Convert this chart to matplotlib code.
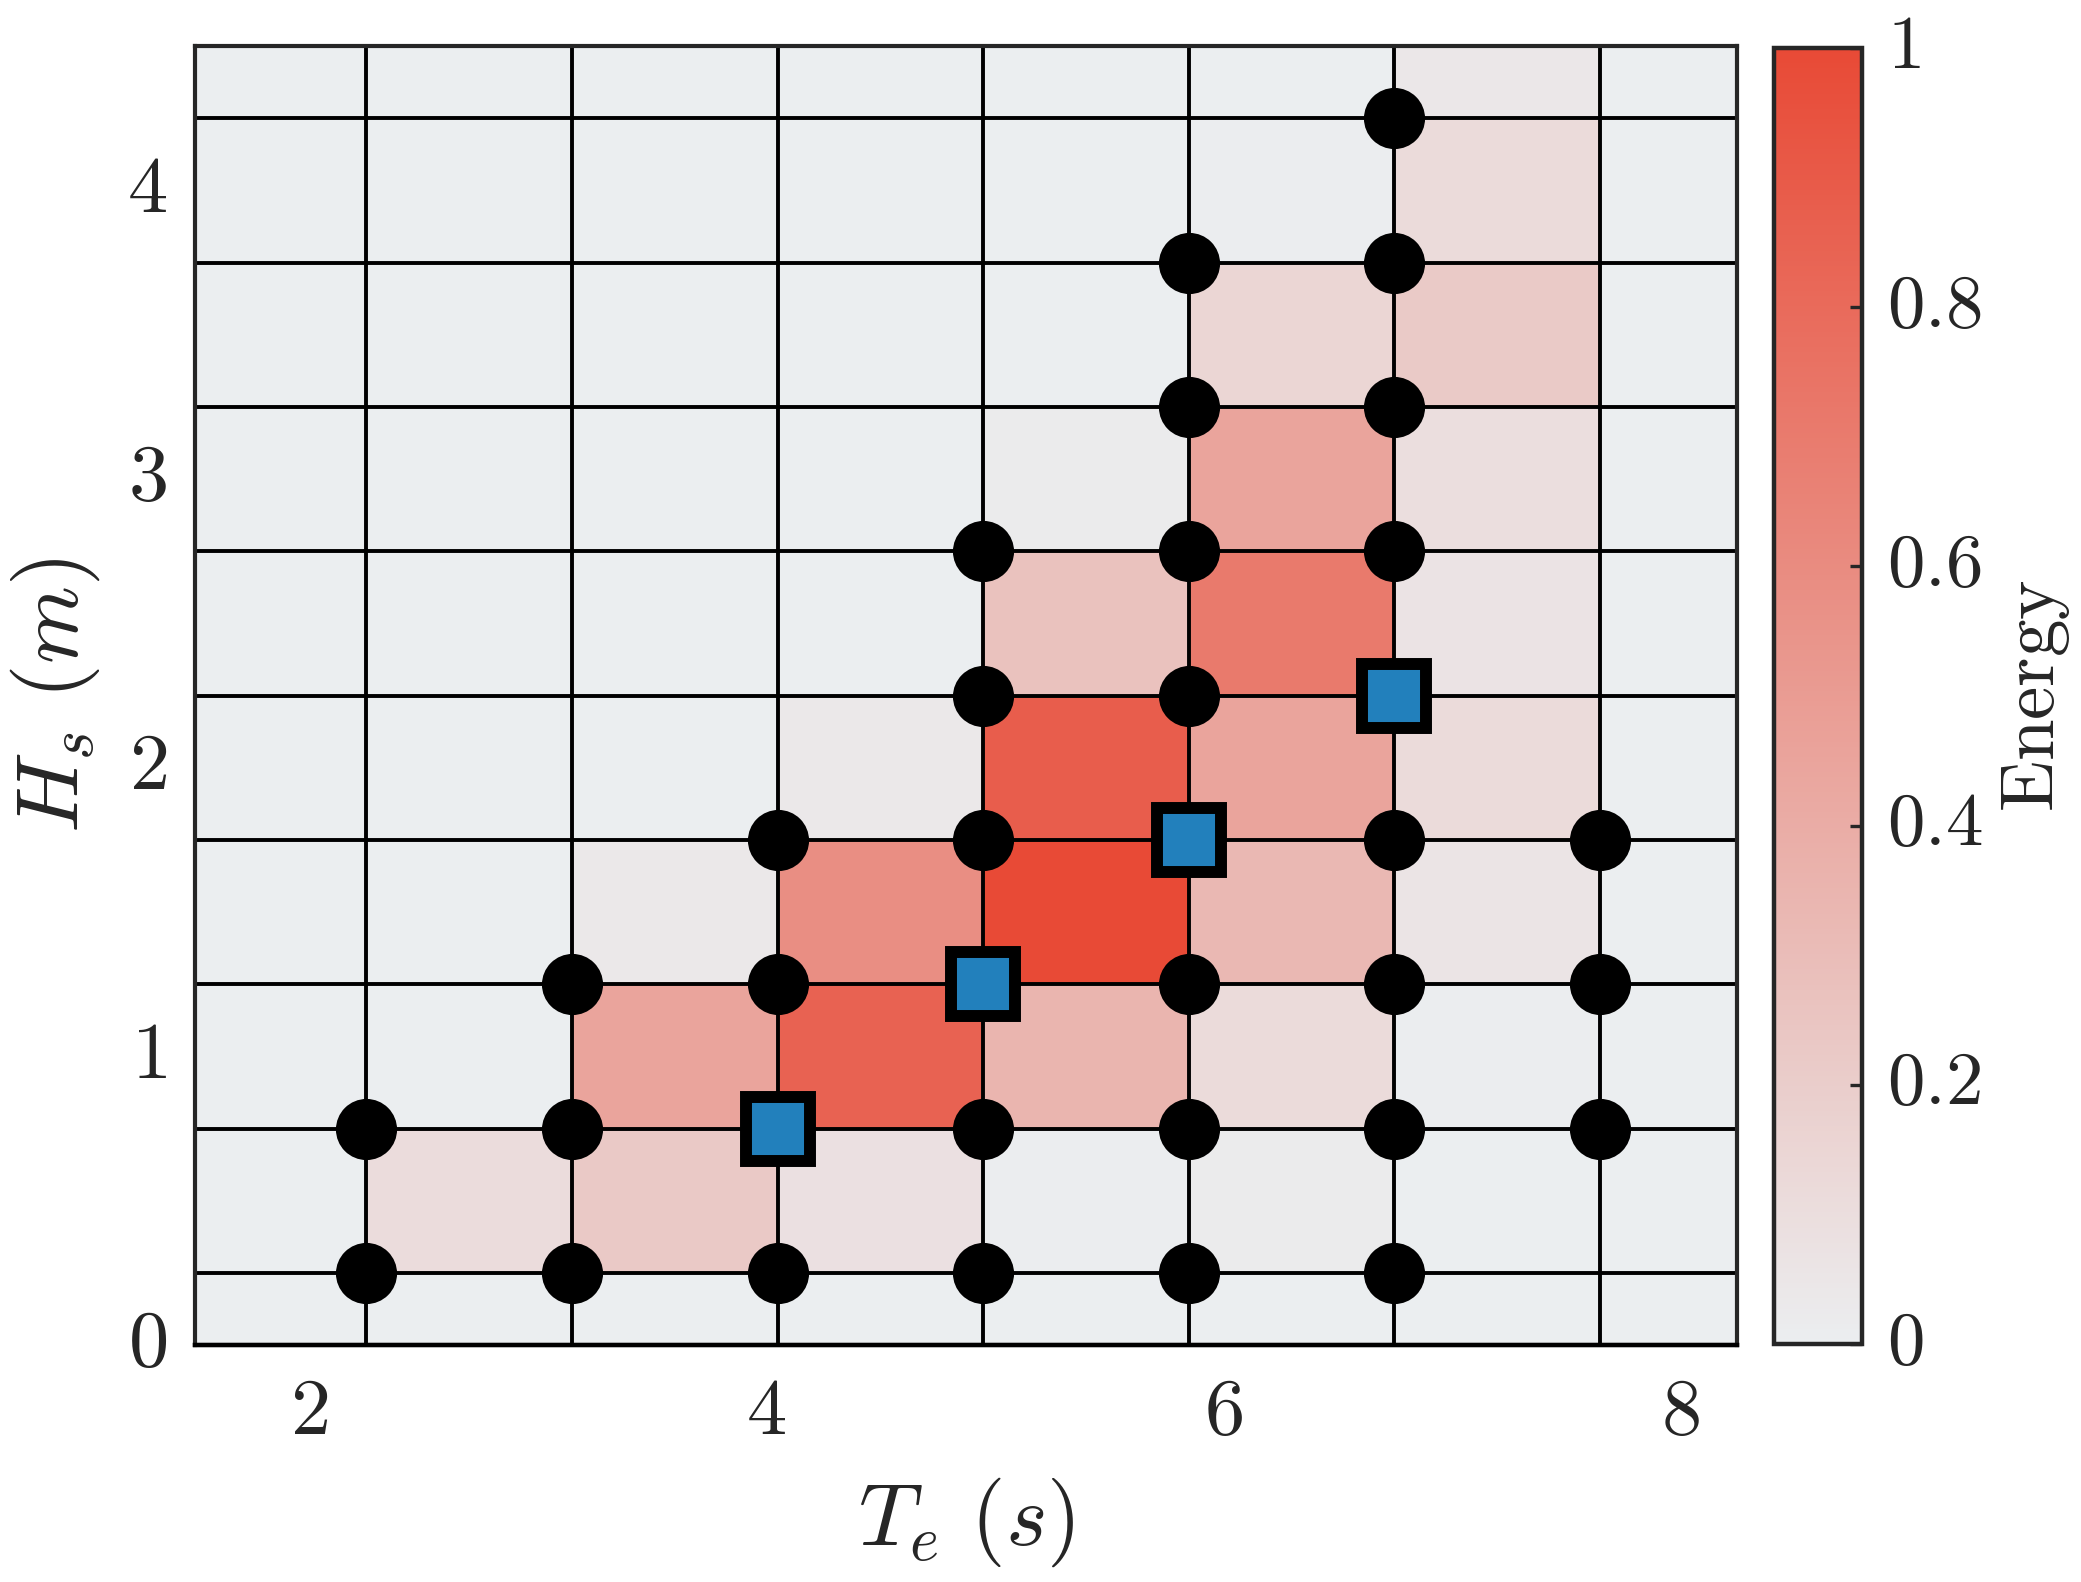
import numpy as np
import matplotlib
matplotlib.use("Agg")
import matplotlib.pyplot as plt
import matplotlib.transforms as mtransforms
from matplotlib.colors import LinearSegmentedColormap
from matplotlib.ticker import FuncFormatter

plt.rcParams['mathtext.fontset'] = 'cm'
plt.rcParams['font.family'] = ['DejaVu Serif']

# ---- data ----
te_nodes = [2.25, 3.15, 4.05, 4.95, 5.85, 6.75, 7.65]
hs_nodes = [0.25, 0.75, 1.25, 1.75, 2.25, 2.75, 3.25, 3.75, 4.25]
x_edges = [1.5, 2.25, 3.15, 4.05, 4.95, 5.85, 6.75, 7.65, 8.25]
y_edges = [0.0, 0.25, 0.75, 1.25, 1.75, 2.25, 2.75, 3.25, 3.75, 4.25, 4.5]

energy_r0 = [0, 0, 0, 0, 0, 0, 0, 0]
energy_r1 = [0, 0.11, 0.23, 0.085, 0.01, 0.02, 0.0, 0]
energy_r2 = [0, 0.0, 0.45, 0.85, 0.35, 0.12, 0.01, 0]
energy_r3 = [0, 0.0, 0.04, 0.585, 1.0, 0.33, 0.06, 0]
energy_r4 = [0, 0, 0, 0.04, 0.88, 0.45, 0.12, 0]
energy_r5 = [0, 0, 0, 0, 0.27, 0.71, 0.067, 0]
energy_r6 = [0, 0, 0, 0, 0.02, 0.45, 0.10, 0]
energy_r7 = [0, 0, 0, 0, 0, 0.15, 0.22, 0]
energy_r8 = [0, 0, 0, 0, 0, 0.01, 0.12, 0]
energy_r9 = [0, 0, 0, 0, 0, 0, 0.045, 0]

dot_te = [2.25, 2.25,
          3.15, 3.15, 3.15,
          4.05, 4.05, 4.05,
          4.95, 4.95, 4.95, 4.95, 4.95,
          5.85, 5.85, 5.85, 5.85, 5.85, 5.85, 5.85,
          6.75, 6.75, 6.75, 6.75, 6.75, 6.75, 6.75, 6.75,
          7.65, 7.65, 7.65]
dot_hs = [0.25, 0.75,
          0.25, 0.75, 1.25,
          0.25, 1.25, 1.75,
          0.25, 0.75, 1.75, 2.25, 2.75,
          0.25, 0.75, 1.25, 2.25, 2.75, 3.25, 3.75,
          0.25, 0.75, 1.25, 1.75, 2.75, 3.25, 3.75, 4.25,
          0.75, 1.25, 1.75]

sq_te = [4.05, 4.95, 5.85, 6.75]
sq_hs = [0.75, 1.25, 1.75, 2.25]

x_ticks = [2, 4, 6, 8]
y_ticks = [0, 1, 2, 3, 4]
cb_ticks = [0, 0.2, 0.4, 0.6, 0.8, 1.0]

# ---- figure ----
DPI = 200
fig = plt.figure(figsize=(2081 / DPI, 1582 / DPI), dpi=DPI)
ax = fig.add_axes([195 / 2081, 1 - 1345 / 1582, (1737 - 195) / 2081, (1345 - 46) / 1582])
cax = fig.add_axes([1774 / 2081, 1 - 1344 / 1582, (1862 - 1774) / 2081, (1344 - 48) / 1582])

cmap = LinearSegmentedColormap.from_list('energy', ['#EBEEF0', '#E84A36'])
E = np.array([energy_r0, energy_r1, energy_r2, energy_r3, energy_r4,
              energy_r5, energy_r6, energy_r7, energy_r8, energy_r9])
mesh = ax.pcolormesh(x_edges, y_edges, E, cmap=cmap, vmin=0, vmax=1,
                     shading='flat', zorder=0)

for t in te_nodes:
    ax.axvline(t, color='black', lw=1.4, zorder=1)
for h in hs_nodes:
    ax.axhline(h, color='black', lw=1.4, zorder=1)
ax.axhline(0, color='black', lw=1.6, zorder=3, clip_on=False)

ax.plot(dot_te, dot_hs, linestyle='none', marker='o', markersize=21,
        color='black', zorder=4)
ax.plot(sq_te, sq_hs, linestyle='none', marker='s', markersize=22.7,
        markerfacecolor='#2280BC', markeredgecolor='black',
        markeredgewidth=4.3, zorder=5)

ax.set_xlim(1.5, 8.25)
ax.set_ylim(0, 4.5)
ax.set_xticks(x_ticks)
ax.set_yticks(y_ticks)
fmt = FuncFormatter(lambda v, p: r'$%g$' % v)
ax.xaxis.set_major_formatter(fmt)
ax.yaxis.set_major_formatter(fmt)
ax.tick_params(axis='both', length=0, labelsize=29, colors='#262626')
ax.tick_params(axis='x', pad=10)
ax.tick_params(axis='y', pad=10)
for s in ax.spines.values():
    s.set_color('#262626')
    s.set_linewidth(1.5)

ax.set_xlabel(r'$T_e\ (s)$', fontsize=32, color='#262626', labelpad=9)
ax.set_ylabel(r'$H_s\ (m)$', fontsize=32, color='#262626', labelpad=9)

cb = fig.colorbar(mesh, cax=cax, ticks=cb_ticks)
cb.outline.set_edgecolor('#262626')
cb.outline.set_linewidth(1.6)
cb.ax.yaxis.set_major_formatter(fmt)
cb.ax.tick_params(direction='in', length=4.5, width=1.2, labelsize=27,
                  colors='#262626', pad=9)
cb.set_label(r'$\mathrm{Energy}$', fontsize=27, color='#262626', labelpad=6)

# nudge vertical-axis tick labels up slightly (LaTeX-like centering)
shift = mtransforms.ScaledTranslation(0, 9 / DPI, fig.dpi_scale_trans)
for lbl in ax.get_yticklabels() + cb.ax.get_yticklabels():
    lbl.set_transform(lbl.get_transform() + shift)

fig.savefig('out.png', dpi=DPI)
